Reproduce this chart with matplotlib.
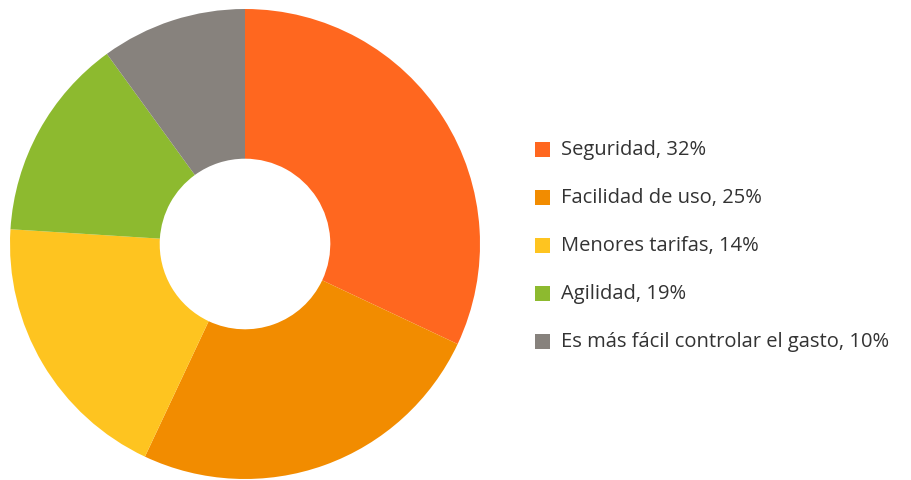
import matplotlib
matplotlib.use("Agg")
import matplotlib.pyplot as plt
from matplotlib.patches import Rectangle

labels = ["Seguridad, 32%", "Facilidad de uso, 25%", "Menores tarifas, 14%",
          "Agilidad, 19%", "Es más fácil controlar el gasto, 10%"]
values = [32, 25, 19, 14, 10]
colors = ["#FF671F", "#F28C00", "#FEC420", "#8DBA2F", "#87827D"]

W, H = 911, 481
fig = plt.figure(figsize=(W / 100, H / 100), dpi=100)
fig.patch.set_facecolor("white")

cx, cy, r = 245, 245, 235
ax = fig.add_axes([(cx - r) / W, (H - cy - r) / H, 2 * r / W, 2 * r / H])
ax.pie(values, colors=colors, startangle=90, counterclock=False, radius=1,
       wedgeprops=dict(width=0.637, linewidth=0))
ax.set_xlim(-1, 1)
ax.set_ylim(-1, 1)
ax.set_aspect("equal")
ax.axis("off")

# legend
y0, dy = 150, 48
for i, (lab, col) in enumerate(zip(labels, colors)):
    y = y0 + i * dy
    fig.patches.append(Rectangle(((535) / W, (H - y - 7.5) / H), 15 / W, 15 / H,
                                 transform=fig.transFigure, facecolor=col,
                                 edgecolor="none"))
    fig.text(561 / W, (H - y) / H, lab, fontsize=14.5, color="#333333",
             family="Open Sans", va="center", ha="left")

fig.savefig("out.png", dpi=100, facecolor="white")
